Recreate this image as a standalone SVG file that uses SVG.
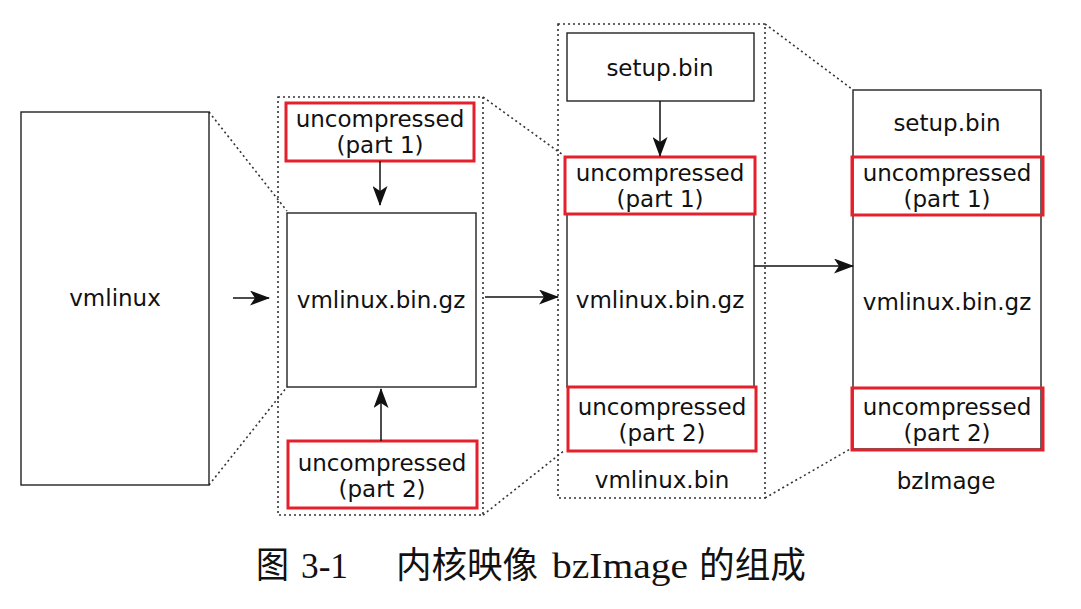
<svg xmlns="http://www.w3.org/2000/svg" width="1081" height="609" viewBox="0 0 1081 609">
<defs>
<marker id="ah" markerWidth="20" markerHeight="15" refX="19" refY="7.5" orient="auto" markerUnits="userSpaceOnUse">
<path d="M0,0 L20,7.5 L0,15 L5,7.5 Z" fill="#111"/>
</marker>
<style>
.box{fill:#fff;stroke:#222;stroke-width:1.4}
.red{fill:none;stroke:#e3202b;stroke-width:3}
.dash{fill:none;stroke:#333;stroke-width:1.6;stroke-dasharray:2 3}
.conn{stroke:#111;stroke-width:1.5;fill:none}
.t{font-family:"DejaVu Sans",sans-serif;font-size:23px;fill:#111;text-anchor:middle}
.cap{font-family:"Liberation Serif","Noto Sans CJK SC",serif;font-size:36px;fill:#111}
</style>
</defs>
<rect width="1081" height="609" fill="#fff"/>

<g id="zoom-lines">
<line class="dash" x1="209" y1="112" x2="287" y2="211"/>
<line class="dash" x1="209" y1="485" x2="287" y2="387"/>
<line class="dash" x1="483" y1="97" x2="563" y2="155"/>
<line class="dash" x1="483" y1="515" x2="565" y2="450"/>
<line class="dash" x1="765" y1="24" x2="852" y2="89"/>
<line class="dash" x1="765" y1="498" x2="852" y2="448"/>
</g>

<g id="vmlinux">
<rect class="box" x="21" y="112" width="188" height="373"/>
<text class="t" x="115" y="306">vmlinux</text>
</g>

<g id="group-vmlinux-bin-gz">
<rect class="dash" x="278" y="97" width="205" height="418"/>
</g>
<g id="g2-part1">
<rect class="box" x="286" y="103" width="188" height="58"/>
<rect class="red" x="286" y="103" width="188" height="58"/>
<text class="t" x="380" y="127">uncompressed</text>
<text class="t" x="380" y="153">(part 1)</text>
</g>
<g id="g2-gz">
<rect class="box" x="287" y="213" width="189" height="174"/>
<text class="t" x="381" y="308">vmlinux.bin.gz</text>
</g>
<g id="g2-part2">
<rect class="box" x="288" y="441" width="189" height="67"/>
<rect class="red" x="288" y="441" width="189" height="67"/>
<text class="t" x="382" y="471">uncompressed</text>
<text class="t" x="382" y="497">(part 2)</text>
</g>

<g id="group-vmlinux-bin">
<rect class="dash" x="558" y="24" width="207" height="474"/>
<text class="t" x="662" y="488">vmlinux.bin</text>
</g>
<g id="g3-setup">
<rect class="box" x="567" y="33" width="187" height="68"/>
<text class="t" x="660" y="76">setup.bin</text>
</g>
<g id="g3-gz">
<rect class="box" x="567" y="214" width="187" height="173"/>
<text class="t" x="660" y="308">vmlinux.bin.gz</text>
</g>
<g id="g3-part1">
<rect class="box" x="565" y="157" width="190" height="57"/>
<rect class="red" x="565" y="157" width="190" height="57"/>
<text class="t" x="660" y="181">uncompressed</text>
<text class="t" x="660" y="207">(part 1)</text>
</g>
<g id="g3-part2">
<rect class="box" x="568" y="387" width="188" height="64"/>
<rect class="red" x="568" y="387" width="188" height="64"/>
<text class="t" x="662" y="415">uncompressed</text>
<text class="t" x="662" y="441">(part 2)</text>
</g>

<g id="bzImage">
<rect class="box" x="853" y="90" width="188" height="359"/>
<text class="t" x="947" y="131">setup.bin</text>
<text class="t" x="947" y="310">vmlinux.bin.gz</text>
<text class="t" x="946" y="489">bzImage</text>
</g>
<g id="bz-part1">
<rect class="red" x="852" y="157" width="191" height="58"/>
<text class="t" x="947" y="181">uncompressed</text>
<text class="t" x="947" y="207">(part 1)</text>
</g>
<g id="bz-part2">
<rect class="red" x="852" y="388" width="191" height="62"/>
<text class="t" x="947" y="415">uncompressed</text>
<text class="t" x="947" y="441">(part 2)</text>
</g>

<g id="connectors">
<line class="conn" x1="233" y1="298" x2="269" y2="298" marker-end="url(#ah)"/>
<line class="conn" x1="380" y1="161" x2="380" y2="205" marker-end="url(#ah)"/>
<line class="conn" x1="381" y1="441" x2="381" y2="389" marker-end="url(#ah)"/>
<line class="conn" x1="485" y1="297" x2="558" y2="297" marker-end="url(#ah)"/>
<line class="conn" x1="660" y1="101" x2="660" y2="156" marker-end="url(#ah)"/>
<line class="conn" x1="754" y1="266" x2="853" y2="266" marker-end="url(#ah)"/>
</g>

<g id="caption">
<text class="cap" x="256" y="578" textLength="33" lengthAdjust="spacingAndGlyphs">图</text>
<text class="cap" x="301" y="578" textLength="47" lengthAdjust="spacingAndGlyphs">3-1</text>
<text class="cap" x="396" y="578" textLength="142" lengthAdjust="spacingAndGlyphs">内核映像</text>
<text class="cap" x="552" y="578" textLength="136" lengthAdjust="spacingAndGlyphs">bzImage</text>
<text class="cap" x="699" y="578" textLength="107" lengthAdjust="spacingAndGlyphs">的组成</text>
</g>
</svg>
